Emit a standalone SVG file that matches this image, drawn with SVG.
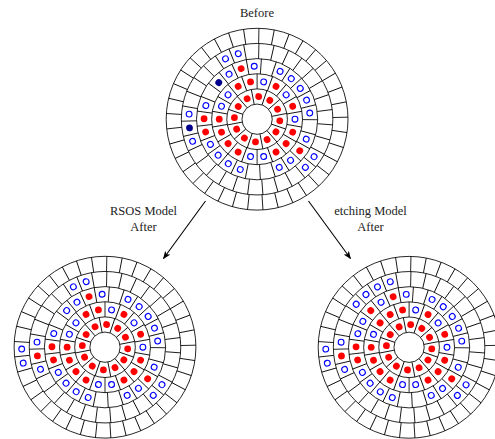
<svg xmlns="http://www.w3.org/2000/svg" xmlns:xlink="http://www.w3.org/1999/xlink" width="495" height="439" viewBox="0 0 495 439">
  <style>
    .grid circle { fill: none; stroke: #000; stroke-width: 0.85; }
    .wall { fill: none; stroke: #000; stroke-width: 0.85; }
    .lbl { font-family: "Liberation Serif", "DejaVu Serif", serif; font-size: 12.5px; fill: #222; text-anchor: middle; }
    .arrow { stroke: #000; stroke-width: 1.1; fill: none; }
  </style>
  <defs>
    <!-- radial cell walls, one per ring (ring width 15.15) -->
    <line id="s1" class="wall" x1="15.15" y1="0" x2="30.3" y2="0"/>
    <line id="s2" class="wall" x1="30.3" y1="0" x2="45.45" y2="0"/>
    <line id="s3" class="wall" x1="45.45" y1="0" x2="60.6" y2="0"/>
    <line id="s4" class="wall" x1="60.6" y1="0" x2="75.75" y2="0"/>
    <line id="s5" class="wall" x1="75.75" y1="0" x2="90.9" y2="0"/>
    <!-- particles -->
    <circle id="R" r="3.4" fill="#ff0000"/>
    <circle id="B" r="2.9" fill="none" stroke="#0000ff" stroke-width="1.1"/>
    <circle id="D" r="3.4" fill="#00008f"/>
    <marker id="head" viewBox="0 0 10 8" refX="9" refY="4" markerWidth="8" markerHeight="6.4" markerUnits="userSpaceOnUse" orient="auto">
      <path d="M0,0 L10,4 L0,8 L2.5,4 z" fill="#000"/>
    </marker>
    <!-- polar lattice: hole + 5 rings with 12, 18, 25, 31, 37 cells -->
    <g id="lattice" class="grid">
      <circle r="15.15"/><circle r="30.3"/><circle r="45.45"/><circle r="60.6"/><circle r="75.75"/><circle r="90.9"/>
      <g>
        <use xlink:href="#s1" transform="rotate(19)"/><use xlink:href="#s1" transform="rotate(49)"/><use xlink:href="#s1" transform="rotate(79)"/><use xlink:href="#s1" transform="rotate(109)"/><use xlink:href="#s1" transform="rotate(139)"/><use xlink:href="#s1" transform="rotate(169)"/><use xlink:href="#s1" transform="rotate(199)"/><use xlink:href="#s1" transform="rotate(229)"/><use xlink:href="#s1" transform="rotate(259)"/><use xlink:href="#s1" transform="rotate(289)"/><use xlink:href="#s1" transform="rotate(319)"/><use xlink:href="#s1" transform="rotate(349)"/>
      </g>
      <g>
        <use xlink:href="#s2" transform="rotate(10)"/><use xlink:href="#s2" transform="rotate(30)"/><use xlink:href="#s2" transform="rotate(50)"/><use xlink:href="#s2" transform="rotate(70)"/><use xlink:href="#s2" transform="rotate(90)"/><use xlink:href="#s2" transform="rotate(110)"/><use xlink:href="#s2" transform="rotate(130)"/><use xlink:href="#s2" transform="rotate(150)"/><use xlink:href="#s2" transform="rotate(170)"/><use xlink:href="#s2" transform="rotate(190)"/><use xlink:href="#s2" transform="rotate(210)"/><use xlink:href="#s2" transform="rotate(230)"/><use xlink:href="#s2" transform="rotate(250)"/><use xlink:href="#s2" transform="rotate(270)"/><use xlink:href="#s2" transform="rotate(290)"/><use xlink:href="#s2" transform="rotate(310)"/><use xlink:href="#s2" transform="rotate(330)"/><use xlink:href="#s2" transform="rotate(350)"/>
      </g>
      <g>
        <use xlink:href="#s3" transform="rotate(0.5)"/><use xlink:href="#s3" transform="rotate(14.9)"/><use xlink:href="#s3" transform="rotate(29.3)"/><use xlink:href="#s3" transform="rotate(43.7)"/><use xlink:href="#s3" transform="rotate(58.1)"/><use xlink:href="#s3" transform="rotate(72.5)"/><use xlink:href="#s3" transform="rotate(86.9)"/><use xlink:href="#s3" transform="rotate(101.3)"/><use xlink:href="#s3" transform="rotate(115.7)"/><use xlink:href="#s3" transform="rotate(130.1)"/><use xlink:href="#s3" transform="rotate(144.5)"/><use xlink:href="#s3" transform="rotate(158.9)"/><use xlink:href="#s3" transform="rotate(173.3)"/><use xlink:href="#s3" transform="rotate(187.7)"/><use xlink:href="#s3" transform="rotate(202.1)"/><use xlink:href="#s3" transform="rotate(216.5)"/><use xlink:href="#s3" transform="rotate(230.9)"/><use xlink:href="#s3" transform="rotate(245.3)"/><use xlink:href="#s3" transform="rotate(259.7)"/><use xlink:href="#s3" transform="rotate(274.1)"/><use xlink:href="#s3" transform="rotate(288.5)"/><use xlink:href="#s3" transform="rotate(302.9)"/><use xlink:href="#s3" transform="rotate(317.3)"/><use xlink:href="#s3" transform="rotate(331.7)"/><use xlink:href="#s3" transform="rotate(346.1)"/>
      </g>
      <g>
        <use xlink:href="#s4" transform="rotate(4.29)"/><use xlink:href="#s4" transform="rotate(15.9)"/><use xlink:href="#s4" transform="rotate(27.51)"/><use xlink:href="#s4" transform="rotate(39.13)"/><use xlink:href="#s4" transform="rotate(50.74)"/><use xlink:href="#s4" transform="rotate(62.35)"/><use xlink:href="#s4" transform="rotate(73.97)"/><use xlink:href="#s4" transform="rotate(85.58)"/><use xlink:href="#s4" transform="rotate(97.19)"/><use xlink:href="#s4" transform="rotate(108.8)"/><use xlink:href="#s4" transform="rotate(120.42)"/><use xlink:href="#s4" transform="rotate(132.03)"/><use xlink:href="#s4" transform="rotate(143.64)"/><use xlink:href="#s4" transform="rotate(155.26)"/><use xlink:href="#s4" transform="rotate(166.87)"/><use xlink:href="#s4" transform="rotate(178.48)"/><use xlink:href="#s4" transform="rotate(190.1)"/><use xlink:href="#s4" transform="rotate(201.71)"/><use xlink:href="#s4" transform="rotate(213.32)"/><use xlink:href="#s4" transform="rotate(224.93)"/><use xlink:href="#s4" transform="rotate(236.55)"/><use xlink:href="#s4" transform="rotate(248.16)"/><use xlink:href="#s4" transform="rotate(259.77)"/><use xlink:href="#s4" transform="rotate(271.39)"/><use xlink:href="#s4" transform="rotate(283)"/><use xlink:href="#s4" transform="rotate(294.61)"/><use xlink:href="#s4" transform="rotate(306.23)"/><use xlink:href="#s4" transform="rotate(317.84)"/><use xlink:href="#s4" transform="rotate(329.45)"/><use xlink:href="#s4" transform="rotate(341.06)"/><use xlink:href="#s4" transform="rotate(352.68)"/>
      </g>
      <g>
        <use xlink:href="#s5" transform="rotate(8.46)"/><use xlink:href="#s5" transform="rotate(18.19)"/><use xlink:href="#s5" transform="rotate(27.92)"/><use xlink:href="#s5" transform="rotate(37.65)"/><use xlink:href="#s5" transform="rotate(47.38)"/><use xlink:href="#s5" transform="rotate(57.11)"/><use xlink:href="#s5" transform="rotate(66.84)"/><use xlink:href="#s5" transform="rotate(76.57)"/><use xlink:href="#s5" transform="rotate(86.3)"/><use xlink:href="#s5" transform="rotate(96.03)"/><use xlink:href="#s5" transform="rotate(105.76)"/><use xlink:href="#s5" transform="rotate(115.49)"/><use xlink:href="#s5" transform="rotate(125.22)"/><use xlink:href="#s5" transform="rotate(134.95)"/><use xlink:href="#s5" transform="rotate(144.68)"/><use xlink:href="#s5" transform="rotate(154.41)"/><use xlink:href="#s5" transform="rotate(164.14)"/><use xlink:href="#s5" transform="rotate(173.87)"/><use xlink:href="#s5" transform="rotate(183.6)"/><use xlink:href="#s5" transform="rotate(193.33)"/><use xlink:href="#s5" transform="rotate(203.05)"/><use xlink:href="#s5" transform="rotate(212.78)"/><use xlink:href="#s5" transform="rotate(222.51)"/><use xlink:href="#s5" transform="rotate(232.24)"/><use xlink:href="#s5" transform="rotate(241.97)"/><use xlink:href="#s5" transform="rotate(251.7)"/><use xlink:href="#s5" transform="rotate(261.43)"/><use xlink:href="#s5" transform="rotate(271.16)"/><use xlink:href="#s5" transform="rotate(280.89)"/><use xlink:href="#s5" transform="rotate(290.62)"/><use xlink:href="#s5" transform="rotate(300.35)"/><use xlink:href="#s5" transform="rotate(310.08)"/><use xlink:href="#s5" transform="rotate(319.81)"/><use xlink:href="#s5" transform="rotate(329.54)"/><use xlink:href="#s5" transform="rotate(339.27)"/><use xlink:href="#s5" transform="rotate(349)"/><use xlink:href="#s5" transform="rotate(358.73)"/>
      </g>
    </g>
    <!-- shared core: ring 1 full, ring 2 and ring 3 red sites -->
    <g id="core">
      <use xlink:href="#R" x="22.73" transform="rotate(4)"/><use xlink:href="#R" x="22.73" transform="rotate(34)"/><use xlink:href="#R" x="22.73" transform="rotate(64)"/><use xlink:href="#R" x="22.73" transform="rotate(94)"/><use xlink:href="#R" x="22.73" transform="rotate(124)"/><use xlink:href="#R" x="22.73" transform="rotate(154)"/><use xlink:href="#R" x="22.73" transform="rotate(184)"/><use xlink:href="#R" x="22.73" transform="rotate(214)"/><use xlink:href="#R" x="22.73" transform="rotate(244)"/><use xlink:href="#R" x="22.73" transform="rotate(274)"/><use xlink:href="#R" x="22.73" transform="rotate(304)"/><use xlink:href="#R" x="22.73" transform="rotate(334)"/>
      <use xlink:href="#R" x="37.88" transform="rotate(20)"/><use xlink:href="#R" x="37.88" transform="rotate(40)"/><use xlink:href="#R" x="37.88" transform="rotate(60)"/><use xlink:href="#R" x="37.88" transform="rotate(120)"/><use xlink:href="#R" x="37.88" transform="rotate(140)"/><use xlink:href="#R" x="37.88" transform="rotate(160)"/><use xlink:href="#R" x="37.88" transform="rotate(180)"/><use xlink:href="#R" x="37.88" transform="rotate(240)"/><use xlink:href="#R" x="37.88" transform="rotate(260)"/><use xlink:href="#R" x="37.88" transform="rotate(300)"/><use xlink:href="#R" x="37.88" transform="rotate(340)"/>
      <use xlink:href="#B" x="37.88" transform="rotate(0)"/><use xlink:href="#B" x="37.88" transform="rotate(80)"/><use xlink:href="#B" x="37.88" transform="rotate(100)"/><use xlink:href="#B" x="37.88" transform="rotate(200)"/><use xlink:href="#B" x="37.88" transform="rotate(280)"/><use xlink:href="#B" x="37.88" transform="rotate(320)"/>
      <use xlink:href="#R" x="53.03" transform="rotate(36.5)"/><use xlink:href="#R" x="53.03" transform="rotate(166.1)"/><use xlink:href="#R" x="53.03" transform="rotate(180.5)"/><use xlink:href="#R" x="53.03" transform="rotate(252.5)"/>
      <use xlink:href="#B" x="53.03" transform="rotate(22.1)"/><use xlink:href="#B" x="53.03" transform="rotate(50.9)"/><use xlink:href="#B" x="53.03" transform="rotate(65.3)"/><use xlink:href="#B" x="53.03" transform="rotate(108.5)"/><use xlink:href="#B" x="53.03" transform="rotate(122.9)"/><use xlink:href="#B" x="53.03" transform="rotate(137.3)"/><use xlink:href="#B" x="53.03" transform="rotate(151.7)"/><use xlink:href="#B" x="53.03" transform="rotate(194.9)"/><use xlink:href="#B" x="53.03" transform="rotate(238.1)"/><use xlink:href="#B" x="53.03" transform="rotate(266.9)"/><use xlink:href="#B" x="53.03" transform="rotate(295.7)"/><use xlink:href="#B" x="53.03" transform="rotate(310.1)"/><use xlink:href="#B" x="53.03" transform="rotate(324.5)"/><use xlink:href="#B" x="53.03" transform="rotate(338.9)"/><use xlink:href="#B" x="53.03" transform="rotate(353.3)"/>
      <use xlink:href="#B" x="68.18" transform="rotate(33.33)"/><use xlink:href="#B" x="68.18" transform="rotate(44.94)"/><use xlink:href="#B" x="68.18" transform="rotate(161.07)"/><use xlink:href="#B" x="68.18" transform="rotate(184.29)"/><use xlink:href="#B" x="68.18" transform="rotate(242.36)"/><use xlink:href="#B" x="68.18" transform="rotate(253.97)"/>
    </g>
  </defs>

  <rect width="495" height="439" fill="#fff"/>

  <!-- initial state -->
  <g id="before" transform="translate(257.1,119.2)">
    <use xlink:href="#lattice"/>
    <use xlink:href="#core"/>
    <use xlink:href="#B" x="37.88" transform="rotate(220)"/>
    <use xlink:href="#D" x="53.03" transform="rotate(223.7)"/>
    <use xlink:href="#D" x="68.18" transform="rotate(172.68)"/>
  </g>

  <!-- RSOS result -->
  <g id="rsos-after" transform="translate(105,347.2)">
    <use xlink:href="#lattice"/>
    <use xlink:href="#core"/>
    <use xlink:href="#B" x="37.88" transform="rotate(220)"/>
    <use xlink:href="#B" x="53.03" transform="rotate(223.7)"/>
    <use xlink:href="#R" x="68.18" transform="rotate(172.68)"/>
    <use xlink:href="#B" x="83.33" transform="rotate(169.01)"/>
    <use xlink:href="#B" x="83.33" transform="rotate(178.74)"/>
  </g>

  <!-- etching result -->
  <g id="etching-after" transform="translate(409.1,347.3)">
    <use xlink:href="#lattice"/>
    <use xlink:href="#core"/>
    <use xlink:href="#R" x="37.88" transform="rotate(220)"/>
    <use xlink:href="#R" x="53.03" transform="rotate(223.7)"/>
    <use xlink:href="#B" x="53.03" transform="rotate(209.3)"/>
    <use xlink:href="#R" x="68.18" transform="rotate(172.68)"/>
    <use xlink:href="#B" x="68.18" transform="rotate(219.13)"/>
    <use xlink:href="#B" x="68.18" transform="rotate(230.75)"/>
    <use xlink:href="#B" x="83.33" transform="rotate(169.01)"/>
    <use xlink:href="#B" x="83.33" transform="rotate(178.74)"/>
  </g>

  <!-- labels -->
  <g id="labels">
    <text class="lbl" x="257" y="17">Before</text>
    <text class="lbl" x="143.5" y="215">RSOS Model</text>
    <text class="lbl" x="143.5" y="230.5">After</text>
    <text class="lbl" x="370.5" y="214.5">etching Model</text>
    <text class="lbl" x="370.5" y="230.5">After</text>
  </g>

  <!-- transitions -->
  <g id="connectors">
    <line class="arrow" x1="205.5" y1="201" x2="163.5" y2="258.5" marker-end="url(#head)"/>
    <line class="arrow" x1="308.5" y1="201" x2="350.5" y2="258.5" marker-end="url(#head)"/>
  </g>
</svg>
